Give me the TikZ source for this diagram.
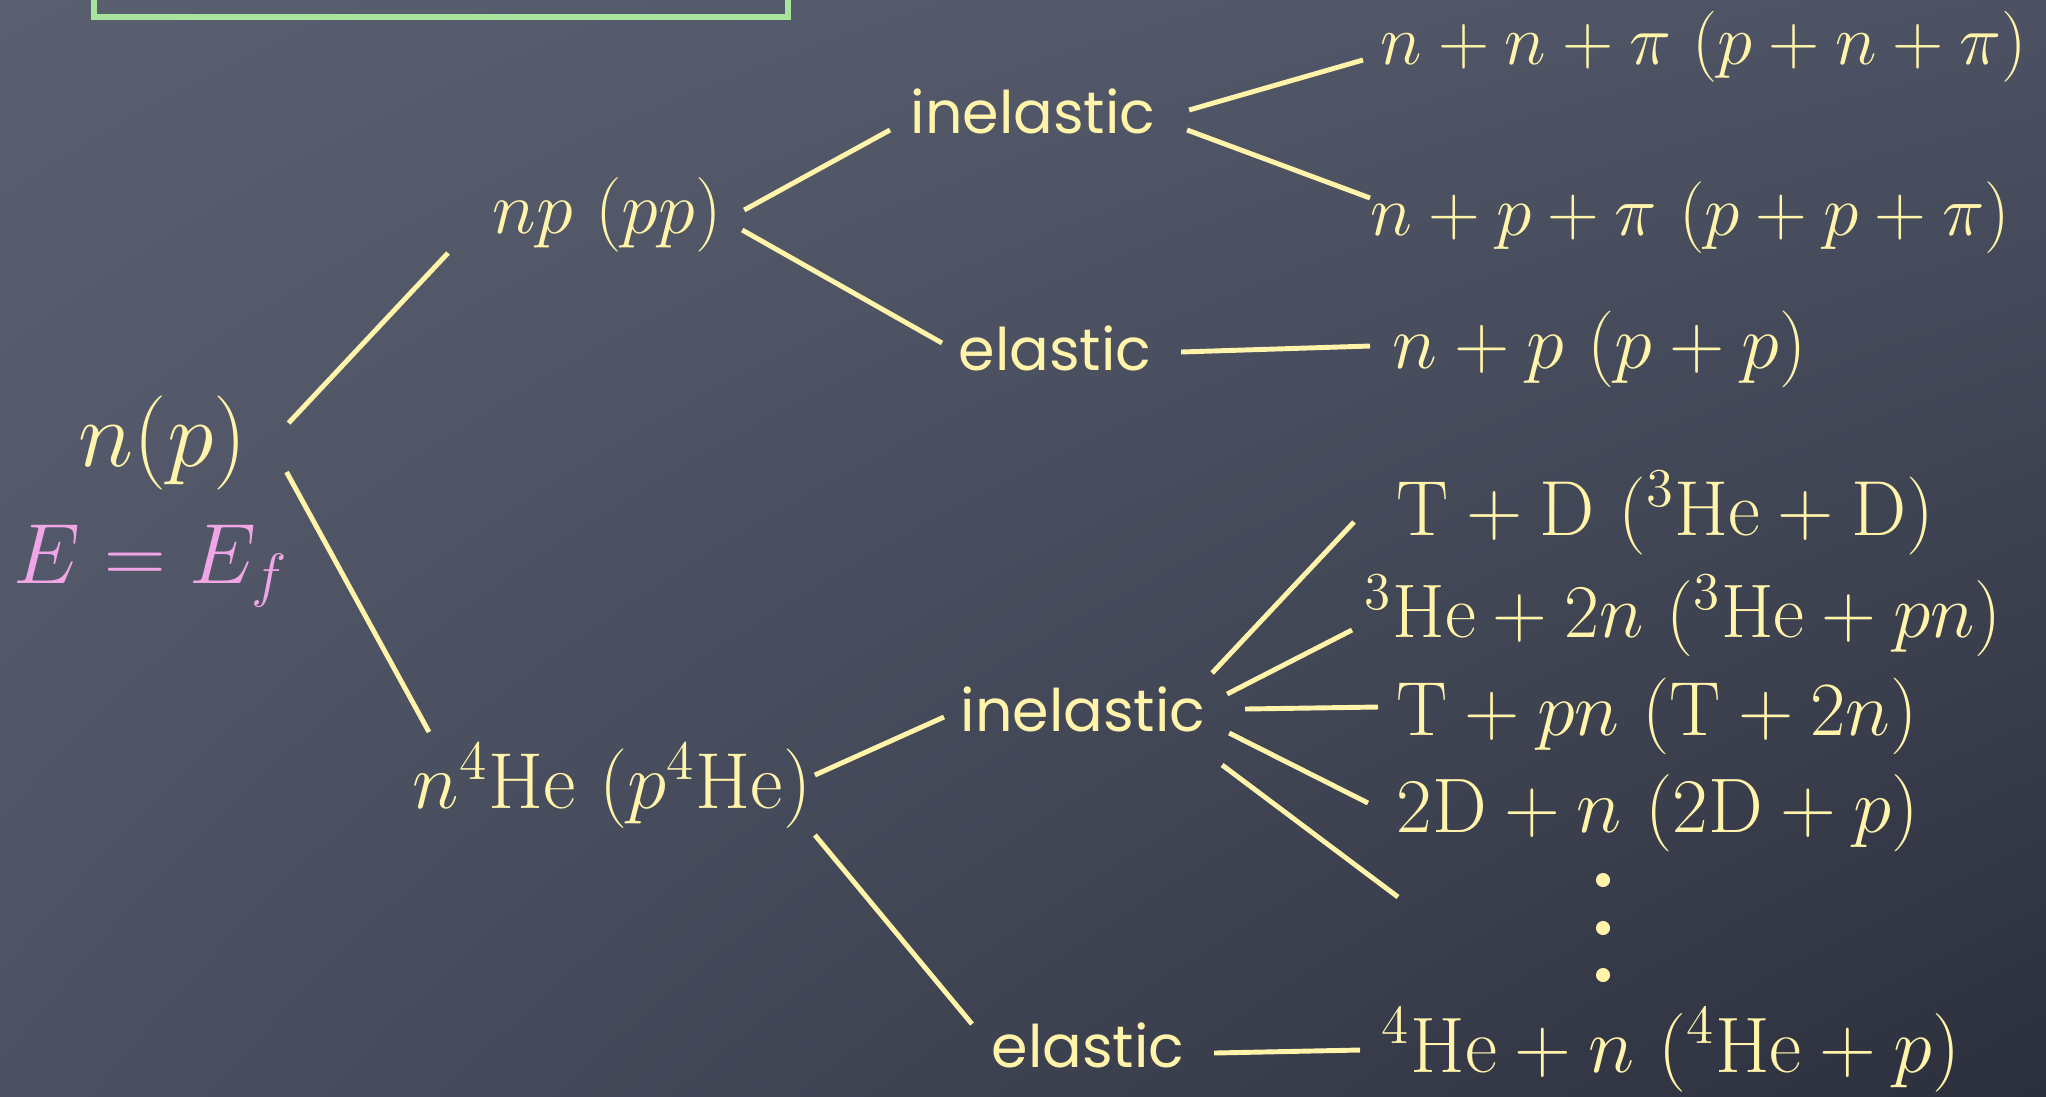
\RequirePackage{fix-cm}
\documentclass[tikz,border=0pt]{standalone}
\usepackage{fontspec}
\usepackage{tikz}
\usetikzlibrary{calc,shadings}
\newfontfamily\chalkfont{Poppins}
\definecolor{Board}{HTML}{4C5263}
\definecolor{BoardLight}{HTML}{5A6070}
\definecolor{BoardDark}{HTML}{2C2F3C}
\definecolor{Chalk}{HTML}{FFF4AA}
\definecolor{ChalkPink}{HTML}{F0A6E6}
\definecolor{ChalkGreen}{HTML}{A6E59B}
\tikzset{
  chalk/.style={text=Chalk, inner sep=0pt, anchor=base west},
  formula/.style={chalk, font=\fontsize{#1}{#1}\selectfont},
  formula/.default=21.6,
  channel/.style={chalk, font=\chalkfont\fontsize{16.7}{20}\selectfont},
  branch/.style={draw=Chalk, line width=1.4pt},
  dot/.style={circle, fill=Chalk, inner sep=0pt, minimum size=4pt},
  frame/.style={draw=ChalkGreen, line width=1.6pt}
}

\begin{document}
\begin{tikzpicture}[x=0.01cm, y=-0.01cm]
  \useasboundingbox (0,0) rectangle (2046,1096);
  \shade[upper left=BoardLight, upper right=Board, lower left=Board, lower right=BoardDark] (0,0) rectangle (2046,1096);
  \draw[frame] (94,-30) rectangle (788,17);

  % incoming particle
  \node[formula=26.8] (beam) at (78,466) {$n(p)$};
  \node[formula=24.3, text=ChalkPink] (energy) at (13,583) {$E=E_f$};

  % targets
  \node[formula=21.2] (np) at (492,233) {$np\ (pp)$};
  \node[formula=22.6] (nhe) at (412,808) {$n^4\mathrm{He}\ (p^4\mathrm{He})$};

  % channels
  \node[channel] (inelA) at (910,133) {inelastic};
  \node[channel] (elasA) at (958,370) {elastic};
  \node[channel] (inelB) at (960,731) {inelastic};
  \node[channel] (elasB) at (991,1067) {elastic};

  % final states
  \node[formula=20.2] (nnpi) at (1380,64) {$n+n+\pi\ (p+n+\pi)$};
  \node[formula=20.4] (nppi) at (1370,235) {$n+p+\pi\ (p+p+\pi)$};
  \node[formula=21.8] (npel) at (1392,368) {$n+p\ (p+p)$};
  \node[formula=22.2] (td) at (1396,535) {$\mathrm{T}+\mathrm{D}\ ({}^3\mathrm{He}+\mathrm{D})$};
  \node[formula] (hetwo) at (1364,637) {${}^3\mathrm{He}+2n\ ({}^3\mathrm{He}+pn)$};
  \node[formula=21.8] (tpn) at (1396,735) {$\mathrm{T}+pn\ (\mathrm{T}+2n)$};
  \node[formula=22] (dd) at (1396,832) {$2\mathrm{D}+n\ (2\mathrm{D}+p)$};
  \foreach \y [count=\i] in {880,928,975}
    \node[dot] (more\i) at (1603,\y) {};
  \coordinate (etc) at (1398,897);
  \node[formula=22.4] (heel) at (1381,1072) {${}^4\mathrm{He}+n\ ({}^4\mathrm{He}+p)$};

  \draw[branch] ($(beam.base east)+(41,-43)$) -- ($(np.base west)+(-44,20)$);
  \draw[branch] ($(beam.base east)+(39,6)$) -- ($(nhe.base west)+(17,-76)$);
  \draw[branch] ($(np.base east)+(22,-23)$) -- ($(inelA.base west)+(-20,-3)$);
  \draw[branch] ($(np.base east)+(20,-3)$) -- ($(elasA.base west)+(-16,-27)$);
  \draw[branch] ($(inelA.base east)+(33,-23)$) -- ($(nnpi.base west)+(-17,-4)$);
  \draw[branch] ($(inelA.base east)+(31,-3)$) -- ($(nppi.base west)+(0,-37)$);
  \draw[branch] ($(elasA.base east)+(29,-18)$) -- ($(npel.base west)+(-22,-22)$);
  \draw[branch] ($(nhe.base east)+(3,-33)$) -- ($(inelB.base west)+(-16,-14)$);
  \draw[branch] ($(nhe.base east)+(3,27)$) -- ($(elasB.base west)+(-19,-43)$);
  \draw[branch] ($(inelB.base east)+(6,-58)$) -- ($(td.base west)+(-42,-13)$);
  \draw[branch] ($(inelB.base east)+(21,-37)$) -- ($(hetwo.base west)+(-12,-7)$);
  \draw[branch] ($(inelB.base east)+(39,-22)$) -- ($(tpn.base west)+(-18,-28)$);
  \draw[branch] ($(inelB.base east)+(23,2)$) -- ($(dd.base west)+(-28,-29)$);
  \draw[branch] ($(inelB.base east)+(16,34)$) -- (etc);
  \draw[branch] ($(elasB.base east)+(29,-14)$) -- ($(heel.base west)+(-21,-22)$);
\end{tikzpicture}
\end{document}
